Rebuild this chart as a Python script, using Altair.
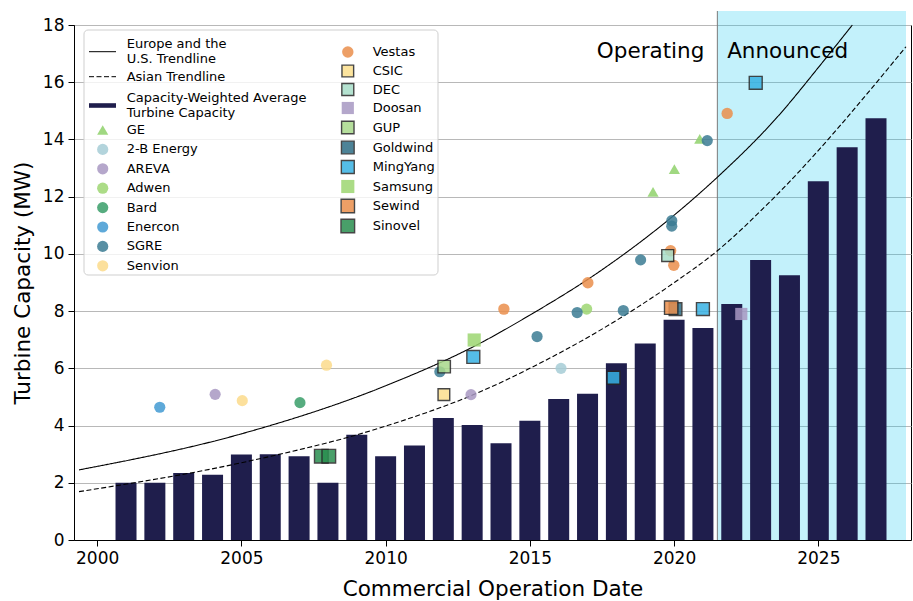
import altair as alt
import pandas as pd

# Capacity-weighted average turbine capacity (MW) by commercial operation year
bar_years = list(range(2001, 2028))
bar_mw = [2.0, 2.0, 2.34, 2.28, 2.99, 3.0, 2.93, 2.0, 3.68, 2.93, 3.30, 4.26,
          4.02, 3.38, 4.17, 4.93, 5.11, 6.18, 6.87, 7.70, 7.41, 8.25, 9.79,
          9.25, 12.54, 13.73, 14.74]
bar_label = "Capacity-Weighted Average\nTurbine Capacity"

# Trendlines, sampled along each curve
eu_label = "Europe and the\nU.S. Trendline"
asia_label = "Asian Trendline"
eu_trend_x = [1999.37, 2005, 2010, 2013.28, 2015, 2017.38, 2020.01, 2021.49,
              2023.55, 2025.15, 2026.18]
eu_trend_y = [2.45, 3.71, 5.39, 6.88, 7.86, 9.36, 11.36, 12.67, 14.75, 16.7, 18.0]
asia_trend_x = [1999.37, 2005, 2010, 2013.28, 2015, 2017.38, 2020.01, 2021.49,
                2023.4, 2028.04]
asia_trend_y = [1.69, 2.70, 3.98, 5.18, 6.0, 7.3, 9.0, 10.1, 11.9, 17.24]

# First group of manufacturers (circle / triangle markers)
g1_names = ["GE", "2-B Energy", "AREVA", "Adwen", "Bard", "Enercon", "SGRE", "Senvion"]
g1_colors = ["#8fd16b", "#a6cdd6", "#a898c2", "#9dd672", "#389e68", "#429ad2",
             "#3b7b93", "#fbdb8b"]
g1_shapes = ["triangle-up", "circle", "circle", "circle", "circle", "circle",
             "circle", "circle"]
g1_maker = ["GE", "GE", "GE", "2-B Energy", "AREVA", "AREVA", "Adwen", "Bard",
            "Enercon", "SGRE", "SGRE", "SGRE", "SGRE", "SGRE", "SGRE", "SGRE",
            "SGRE", "Senvion", "Senvion"]
g1_year = [2019.27, 2020.01, 2020.89, 2016.08, 2004.09, 2012.96, 2016.97, 2007.03,
           2002.17, 2011.88, 2015.25, 2016.64, 2018.24, 2018.84, 2019.92, 2019.92,
           2021.15, 2005.03, 2007.95]
g1_mw = [12.17, 12.96, 14.02, 6.0, 5.09, 5.08, 8.07, 4.80,
         4.64, 5.88, 7.11, 7.95, 8.02, 9.79, 11.16, 10.97,
         13.96, 4.87, 6.11]

# Second group of manufacturers (Vestas circles, square markers)
g2_names = ["Vestas", "CSIC", "DEC", "Doosan", "GUP", "Goldwind", "MingYang",
            "Samsung", "Sewind", "Sinovel"]
g2_colors = ["#eb8f4c", "#fce08e", "#a7ddc8", "#a898c2", "#a9d98b", "#2f6e86",
             "#38b2e3", "#9dd672", "#eb8f4c", "#2a8f50"]
g2_shapes = ["circle"] + ["square"] * 9
g2_sizes = [130] + [185] * 9
g2_edges = ["transparent", "#262626", "#262626", "transparent", "#262626",
            "#262626", "#262626", "transparent", "#262626", "#262626"]
g2_maker = ["Vestas", "Vestas", "Vestas", "Vestas", "Vestas", "CSIC", "DEC",
            "Doosan", "GUP", "Goldwind", "MingYang", "MingYang", "MingYang",
            "MingYang", "Samsung", "Sewind", "Sinovel", "Sinovel"]
g2_year = [2014.10, 2017.01, 2019.88, 2019.99, 2021.84, 2012.02, 2019.78,
           2022.33, 2012.03, 2020.05, 2013.04, 2017.90, 2021.0, 2022.83,
           2013.07, 2019.90, 2007.77, 2008.03]
g2_mw = [8.07, 8.99, 10.11, 9.60, 14.91, 5.08, 9.94,
         7.9, 6.06, 8.07, 6.40, 5.67, 8.07, 15.98,
         6.99, 8.12, 2.93, 2.93]

X_MIN, X_MAX = 1999.37, 2028.04
ANNOUNCED_START = 2021.5
FONT = "DejaVu Sans"

xscale = alt.Scale(domain=[X_MIN, X_MAX], nice=False, zero=False)
yscale = alt.Scale(domain=[0, 18], nice=False)

bars_df = pd.DataFrame({"year": bar_years, "mw": bar_mw, "series": bar_label})
eu_df = pd.DataFrame({"year": eu_trend_x, "mw": eu_trend_y, "trend": eu_label})
asia_df = pd.DataFrame({"year": asia_trend_x, "mw": asia_trend_y, "trend": asia_label})
g1_df = pd.DataFrame({"year": g1_year, "mw": g1_mw, "maker": g1_maker})
g2_df = pd.DataFrame({"year": g2_year, "mw": g2_mw, "maker": g2_maker})
one_row = pd.DataFrame({"k": [0]})

split_expr = "split(datum.label, '\\n')"

# Announced-projects band
shade = alt.Chart(one_row).mark_rect(fill="#0fc7ef", opacity=0.25, clip=False).encode(
    x=alt.datum(ANNOUNCED_START, scale=xscale),
    x2=alt.datum(X_MAX),
    y=alt.value(-14),
    y2=alt.value(515),
)
shade_edge = alt.Chart(one_row).mark_rule(color="#7a7a7a", strokeWidth=1, clip=False).encode(
    x=alt.datum(ANNOUNCED_START, scale=xscale),
    y=alt.value(-14),
    y2=alt.value(515),
)

bars = alt.Chart(bars_df).mark_bar(size=21).encode(
    x=alt.X("year:Q", scale=xscale,
            axis=alt.Axis(values=[2000, 2005, 2010, 2015, 2020, 2025], format="d",
                          titlePadding=12),
            title="Commercial Operation Date"),
    y=alt.Y("mw:Q", scale=yscale,
            axis=alt.Axis(values=list(range(0, 19, 2)), titlePadding=8),
            title="Turbine Capacity (MW)"),
    fill=alt.Fill("series:N", scale=alt.Scale(domain=[bar_label], range=["#1f1e4c"]),
                  legend=alt.Legend(orient="none", legendX=15, legendY=67, title=None,
                                    symbolType="M-1,-0.17H1V0.17H-1Z", symbolSize=729,
                                    symbolStrokeWidth=0, labelOffset=10.7,
                                    labelBaseline="line-bottom",
                                    labelExpr=split_expr)),
)


def trend_layer(df, label, dash, legend_y, baseline):
    return alt.Chart(df).mark_line(color="black", strokeWidth=1.1,
                                   interpolate="monotone").encode(
        x=alt.X("year:Q", scale=xscale),
        y=alt.Y("mw:Q", scale=yscale),
        strokeDash=alt.StrokeDash(
            "trend:N",
            scale=alt.Scale(domain=[label], range=[dash]),
            legend=alt.Legend(orient="none", legendX=14.5, legendY=legend_y, title=None,
                              symbolType="stroke", symbolSize=729,
                              symbolStrokeColor="black", symbolStrokeWidth=1,
                              labelOffset=10.2, labelBaseline=baseline,
                              labelExpr=split_expr)),
    )


eu_trend = trend_layer(eu_df, eu_label, [1, 0], 12.7, "line-bottom")
asia_trend = trend_layer(asia_df, asia_label, [5, 2.5], 37.7, "middle")

g1_legend = alt.Legend(orient="none", legendX=22.2, legendY=98.5, title=None,
                       symbolSize=125, symbolStrokeWidth=0, rowPadding=5.4,
                       labelOffset=17.5)
pts1 = alt.Chart(g1_df).mark_point(filled=True, size=125, opacity=0.85).encode(
    x=alt.X("year:Q", scale=xscale),
    y=alt.Y("mw:Q", scale=yscale),
    color=alt.Color("maker:N", scale=alt.Scale(domain=g1_names, range=g1_colors),
                    legend=g1_legend),
    shape=alt.Shape("maker:N", scale=alt.Scale(domain=g1_names, range=g1_shapes),
                    legend=g1_legend),
)

g2_legend = alt.Legend(orient="none", legendX=265.8, legendY=20.5, title=None,
                       symbolStrokeWidth=1.4, rowPadding=0.5, labelOffset=16.9)
pts2 = alt.Chart(g2_df).mark_point(filled=True, opacity=0.85, strokeWidth=1.4).encode(
    x=alt.X("year:Q", scale=xscale),
    y=alt.Y("mw:Q", scale=yscale),
    color=alt.Color("maker:N", scale=alt.Scale(domain=g2_names, range=g2_colors),
                    legend=g2_legend),
    shape=alt.Shape("maker:N", scale=alt.Scale(domain=g2_names, range=g2_shapes),
                    legend=g2_legend),
    size=alt.Size("maker:N", scale=alt.Scale(domain=g2_names, range=g2_sizes),
                  legend=g2_legend),
    stroke=alt.Stroke("maker:N", scale=alt.Scale(domain=g2_names, range=g2_edges),
                      legend=g2_legend),
)

# Legend frame
frame = alt.Chart(one_row).mark_rect(fill="white", fillOpacity=0.8, stroke="#cfcfcf",
                                     strokeWidth=1, cornerRadius=4).encode(
    x=alt.value(10), x2=alt.value(364), y=alt.value(5), y2=alt.value(250),
)

txt_operating = alt.Chart(one_row).mark_text(
    text="Operating", align="right", baseline="middle", font=FONT, fontSize=21.5,
    color="black").encode(
    x=alt.datum(2021.05, scale=xscale), y=alt.datum(17.05, scale=yscale))
txt_announced = alt.Chart(one_row).mark_text(
    text="Announced", align="left", baseline="middle", font=FONT, fontSize=21.5,
    color="black").encode(
    x=alt.datum(2021.84, scale=xscale), y=alt.datum(17.05, scale=yscale))

chart = alt.layer(
    shade, shade_edge, bars, eu_trend, asia_trend, pts1, pts2, frame,
    txt_operating, txt_announced
).resolve_scale(
    color="independent", shape="independent", size="independent",
    stroke="independent", strokeDash="independent"
).properties(
    width=837, height=515,
    autosize=alt.AutoSizeParams(type="none"),
    padding={"left": 74, "top": 25, "right": 2, "bottom": 61},
).configure_view(
    stroke="black", strokeWidth=1, fill="white"
).configure_axis(
    labelFont=FONT, labelFontSize=17, labelColor="black", labelFlush=False,
    titleFont=FONT, titleFontSize=21.5, titleFontWeight="normal", titleColor="black",
    tickColor="black", tickSize=6, tickWidth=1, domainColor="black", domainWidth=1,
    gridColor="#b8b8b8", gridWidth=1, labelPadding=4,
).configure_legend(
    labelFont=FONT, labelFontSize=13, labelColor="black", labelLimit=400, padding=0,
)

chart.save("out.html", embed_options={"renderer": "svg", "actions": False})
